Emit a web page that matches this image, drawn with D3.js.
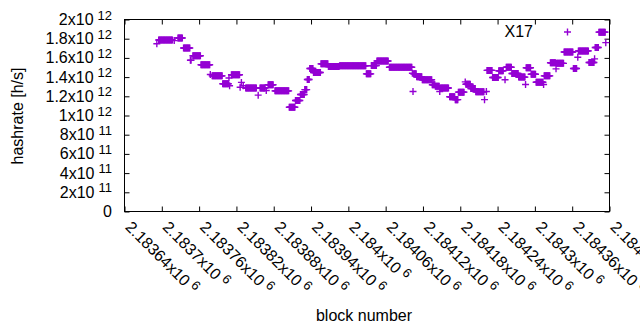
<!DOCTYPE html>
<html lang="en">
<head>
  <meta charset="UTF-8">
  <title>X17 hashrate</title>
  <script src="https://cdn.jsdelivr.net/npm/d3@7"></script>
</head>
<style>
    body { margin: 0; background: #fff; }
    text {
      fill: #000;
      font-family: "Liberation Sans", Arial, sans-serif;
      font-size: 16px;
    }
    .sup { font-size: 13px; }
</style>
<body>
<svg width="640" height="330"></svg>
<script>

    // runs of consecutive blocks that share the same hashrate estimate
    var runStart = [2183692, 2183695, 2183720, 2183726, 2183735, 2183746, 2183750, 2183763, 2183778, 2183781,
                    2183798, 2183808, 2183809, 2183812, 2183826, 2183828, 2183831, 2183835, 2183855, 2183858,
                    2183868, 2183871, 2183882, 2183905, 2183915, 2183923, 2183930, 2183934, 2183938, 2183944,
                    2183956, 2183968, 2183986, 2184029, 2184037, 2184046, 2184066, 2184103, 2184104, 2184105,
                    2184110, 2184119, 2184135, 2184140, 2184147, 2184148, 2184163, 2184172, 2184177, 2184188,
                    2184189, 2184197, 2184205, 2184219, 2184222, 2184223, 2184232, 2184242, 2184252, 2184254,
                    2184263, 2184274, 2184285, 2184286, 2184294, 2184302, 2184314, 2184315, 2184325, 2184334,
                    2184335, 2184347, 2184362, 2184369, 2184370, 2184387, 2184396, 2184397, 2184403, 2184414];
    var runEnd   = [2183692, 2183717, 2183720, 2183733, 2183745, 2183747, 2183762, 2183777, 2183778, 2183797,
                    2183807, 2183808, 2183809, 2183825, 2183826, 2183828, 2183831, 2183852, 2183855, 2183866,
                    2183868, 2183879, 2183904, 2183914, 2183922, 2183929, 2183933, 2183937, 2183943, 2183955,
                    2183967, 2183985, 2184028, 2184036, 2184045, 2184064, 2184102, 2184103, 2184104, 2184109,
                    2184118, 2184134, 2184139, 2184146, 2184147, 2184161, 2184171, 2184176, 2184186, 2184188,
                    2184196, 2184204, 2184218, 2184219, 2184222, 2184231, 2184241, 2184249, 2184252, 2184262,
                    2184273, 2184284, 2184285, 2184293, 2184301, 2184313, 2184314, 2184324, 2184333, 2184334,
                    2184346, 2184361, 2184367, 2184369, 2184386, 2184395, 2184396, 2184402, 2184413, 2184414];
    var runRate  = [1.747e12, 1.786e12, 1.780e12, 1.807e12, 1.703e12, 1.575e12, 1.622e12, 1.528e12, 1.427e12, 1.413e12,
                    1.330e12, 1.390e12, 1.310e12, 1.424e12, 1.295e12, 1.345e12, 1.310e12, 1.286e12, 1.212e12, 1.286e12,
                    1.260e12, 1.320e12, 1.257e12, 1.086e12, 1.156e12, 1.219e12, 1.270e12, 1.375e12, 1.490e12, 1.448e12,
                    1.538e12, 1.510e12, 1.518e12, 1.434e12, 1.520e12, 1.568e12, 1.503e12, 1.440e12, 1.250e12, 1.435e12,
                    1.403e12, 1.373e12, 1.320e12, 1.305e12, 1.250e12, 1.286e12, 1.195e12, 1.165e12, 1.243e12, 1.350e12,
                    1.325e12, 1.280e12, 1.247e12, 1.165e12, 1.250e12, 1.470e12, 1.396e12, 1.466e12, 1.372e12, 1.503e12,
                    1.437e12, 1.400e12, 1.323e12, 1.497e12, 1.430e12, 1.347e12, 1.323e12, 1.413e12, 1.550e12, 1.486e12,
                    1.543e12, 1.662e12, 1.490e12, 1.607e12, 1.673e12, 1.552e12, 1.590e12, 1.708e12, 1.868e12, 1.759e12];

    var xTicks = [2183640, 2183700, 2183760, 2183820, 2183880, 2183940, 2184000,
                  2184060, 2184120, 2184180, 2184240, 2184300, 2184360, 2184420];
    var yTicks = [0, 2e11, 4e11, 6e11, 8e11, 1e12, 1.2e12, 1.4e12, 1.6e12, 1.8e12, 2e12];
    var seriesName = "X17";

    var svg = d3.select("svg");
    var plotLeft = 124.5, plotRight = 609.5, plotTop = 19.5, plotBottom = 211.5;
    var color = "#9400d3";

    var x = d3.scaleLinear().domain([2183640, 2184420]).range([plotLeft, plotRight]);
    var y = d3.scaleLinear().domain([0, 2e12]).range([plotBottom, plotTop]);

    // expand the runs into one point per block
    var points = [];
    runStart.forEach(function(s, i) {
        for (var b = s; b <= runEnd[i]; b++) points.push({block: b, rate: runRate[i]});
    });

    // split a tick value into mantissa and power of ten
    function sci(v) {
        if (v === 0) return null;
        var e = Math.floor(Math.log10(v) + 1e-9);
        var m = +(v / Math.pow(10, e)).toPrecision(6);
        return {m: m, e: e};
    }
    function label(sel, v) {
        var s = sci(v);
        if (!s) { sel.text("0"); return; }
        sel.append("tspan").text(s.m + "x10");
        sel.append("tspan").attr("class", "sup").attr("dx", 4).attr("dy", -5.5).text(s.e);
    }

    // axes: ticks pointing inward on all four sides
    svg.append("g").attr("transform", "translate(" + plotLeft + ",0)")
        .call(d3.axisLeft(y).tickValues(yTicks).tickSize(-5).tickFormat(""));
    svg.append("g").attr("transform", "translate(" + plotRight + ",0)")
        .call(d3.axisRight(y).tickValues(yTicks).tickSize(-5).tickFormat(""));
    svg.append("g").attr("transform", "translate(0," + plotBottom + ")")
        .call(d3.axisBottom(x).tickValues(xTicks).tickSize(-5).tickFormat(""));
    svg.append("g").attr("transform", "translate(0," + plotTop + ")")
        .call(d3.axisTop(x).tickValues(xTicks).tickSize(-5).tickFormat(""));
    svg.selectAll(".domain").remove();
    svg.selectAll(".tick line").attr("stroke", "#000");

    svg.append("rect")
        .attr("x", plotLeft).attr("y", plotTop)
        .attr("width", plotRight - plotLeft).attr("height", plotBottom - plotTop)
        .attr("fill", "none").attr("stroke", "#000").attr("stroke-width", 1);

    // y tick labels
    svg.append("g").selectAll("text")
        .data(yTicks)
        .enter().append("text")
          .attr("x", 112)
          .attr("y", function(d) { return y(d) + 5.5; })
          .attr("text-anchor", "end")
          .each(function(d) { label(d3.select(this), d); });

    // x tick labels, rotated
    svg.append("g").selectAll("text")
        .data(xTicks)
        .enter().append("text")
          .attr("transform", function(d) { return "translate(" + x(d) + ",228) rotate(45)"; })
          .attr("text-anchor", "start")
          .each(function(d) { label(d3.select(this), d); });

    // axis titles
    svg.append("text")
        .attr("transform", "translate(23,116) rotate(-90)")
        .attr("text-anchor", "middle")
        .text("hashrate [h/s]");
    svg.append("text")
        .attr("x", 364).attr("y", 321)
        .attr("text-anchor", "middle")
        .text("block number");

    // data points as + markers
    var plus = "M-3.5,0H3.5M0,-3.5V3.5";
    svg.append("g")
        .selectAll("path")
        .data(points)
        .enter().append("path")
          .attr("transform", function(d) { return "translate(" + x(d.block) + "," + y(d.rate) + ")"; })
          .attr("d", plus)
          .attr("fill", "none")
          .attr("stroke", color)
          .attr("stroke-width", 1.4);

    // key
    svg.append("text")
        .attr("x", 533).attr("y", 37)
        .attr("text-anchor", "end")
        .text(seriesName);
    svg.append("path")
        .attr("transform", "translate(567.5,32)")
        .attr("d", plus)
        .attr("fill", "none")
        .attr("stroke", color)
        .attr("stroke-width", 1.4);

</script>
</body>
</html>
